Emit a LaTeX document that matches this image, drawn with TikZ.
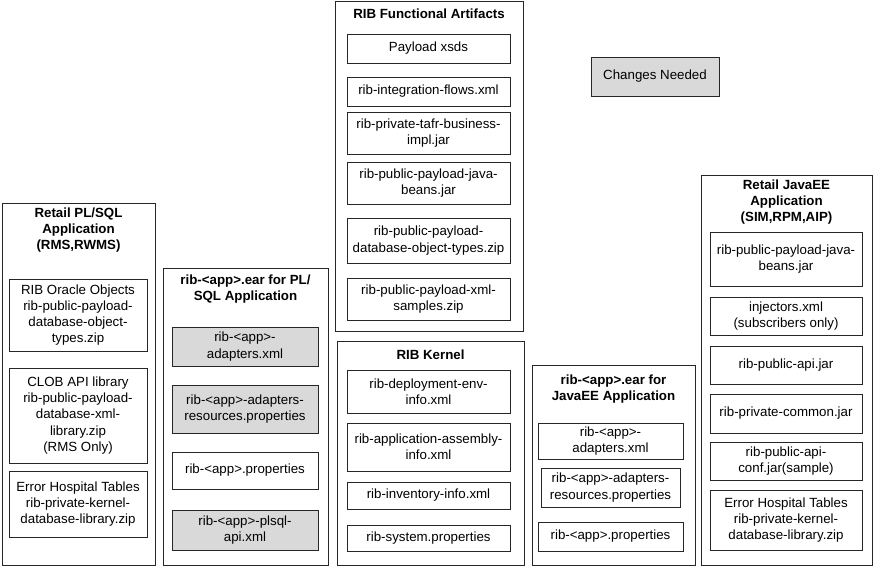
\documentclass[tikz,border=0pt]{standalone}
\usepackage{fontspec}
\setmainfont{Liberation Sans}
\usetikzlibrary{shadows}
\definecolor{ArtGray}{HTML}{D9D9D9}
\definecolor{ArtLine}{HTML}{262626}

\begin{document}
\begin{tikzpicture}[
    x=1pt,y=-1pt,
    font=\fontsize{13.3}{16.2}\selectfont,
    boxshadow/.style={drop shadow={shadow xshift=1.2pt,shadow yshift=-1.2pt,fill=black!35,opacity=1}},
    grp/.style={draw=ArtLine,line width=1pt,fill=white,inner sep=0pt,boxshadow},
    grptitle/.style={font=\fontsize{13.3}{16.2}\selectfont\bfseries,align=center,inner sep=0pt},
    item/.style={draw=ArtLine,line width=0.9pt,fill=white,align=center,inner sep=1pt,boxshadow},
    chg/.style={item,fill=ArtGray}
  ]
  \path[use as bounding box] (0,0) rectangle (875,568);

  % Retail PL/SQL application
  \node[grp,minimum width=153pt,minimum height=362pt] (plsql) at (78.5,384) {};
  \node[grptitle] (plsqlt) at (78.5,230) {Retail PL/SQL\\Application\\(RMS,RWMS)};
  \node[item,minimum width=138pt,minimum height=72pt] (oraobj) at (78,315) {RIB Oracle Objects\\rib-public-payload-\\database-object-\\types.zip};
  \node[item,minimum width=138pt,minimum height=95pt] (clob) at (78,415.5) {CLOB API library\\rib-public-payload-\\database-xml-\\library.zip\\(RMS Only)};
  \node[item,minimum width=138pt,minimum height=66pt] (plerr) at (78,504) {Error Hospital Tables\\rib-private-kernel-\\database-library.zip};

  % ear for PL/SQL
  \node[grp,minimum width=165pt,minimum height=297pt] (plear) at (245.5,416.5) {};
  \node[grptitle] (pleart) at (245.5,289) {rib-<app>.ear for PL/\\SQL Application};
  \node[chg,minimum width=146pt,minimum height=39pt] (pladp) at (245,346.5) {rib-<app>-\\adapters.xml};
  \node[chg,minimum width=146pt,minimum height=48pt] (plres) at (245,409) {rib-<app>-adapters-\\resources.properties};
  \node[item,minimum width=146pt,minimum height=37pt] (plprop) at (245,470.5) {rib-<app>.properties};
  \node[chg,minimum width=146pt,minimum height=40pt] (plapi) at (245,530) {rib-<app>-plsql-\\api.xml};

  % functional artifacts
  \node[grp,minimum width=188pt,minimum height=330pt] (func) at (429,166) {};
  \node[grptitle] (funct) at (429,14) {RIB Functional Artifacts};
  \node[item,minimum width=163pt,minimum height=29pt] (xsds) at (428.5,48.5) {Payload xsds};
  \node[item,minimum width=163pt,minimum height=29pt] (flows) at (428.5,91.5) {rib-integration-flows.xml};
  \node[item,minimum width=163pt,minimum height=42pt] (tafr) at (428.5,133) {rib-private-tafr-business-\\impl.jar};
  \node[item,minimum width=163pt,minimum height=42pt] (beans) at (428.5,183) {rib-public-payload-java-\\beans.jar};
  \node[item,minimum width=163pt,minimum height=45pt] (objtypes) at (428.5,240.5) {rib-public-payload-\\database-object-types.zip};
  \node[item,minimum width=163pt,minimum height=42pt] (samples) at (428.5,299) {rib-public-payload-xml-\\samples.zip};

  % kernel
  \node[grp,minimum width=187pt,minimum height=224pt] (kern) at (430.5,453) {};
  \node[grptitle] (kernt) at (430.5,355) {RIB Kernel};
  \node[item,minimum width=163pt,minimum height=43pt] (depenv) at (428.5,391.5) {rib-deployment-env-\\info.xml};
  \node[item,minimum width=163pt,minimum height=48pt] (assembly) at (428.5,447) {rib-application-assembly-\\info.xml};
  \node[item,minimum width=163pt,minimum height=27pt] (inventory) at (428.5,495.5) {rib-inventory-info.xml};
  \node[item,minimum width=163pt,minimum height=26pt] (sysprop) at (428.5,538) {rib-system.properties};

  % ear for JavaEE
  \node[grp,minimum width=163pt,minimum height=200pt] (jeear) at (613.5,465) {};
  \node[grptitle] (jeeart) at (613.5,389) {rib-<app>.ear for\\JavaEE Application};
  \node[item,minimum width=145pt,minimum height=36pt] (jeadp) at (610.5,441) {rib-<app>-\\adapters.xml};
  \node[item,minimum width=139pt,minimum height=39pt] (jeres) at (610.5,487.5) {rib-<app>-adapters-\\resources.properties};
  \node[item,minimum width=145pt,minimum height=29pt] (jeprop) at (610.5,536.5) {rib-<app>.properties};

  % Retail JavaEE application
  \node[grp,minimum width=171pt,minimum height=390pt] (javaee) at (786.5,370) {};
  \node[grptitle] (javaeet) at (786.5,202) {Retail JavaEE\\Application\\(SIM,RPM,AIP)};
  \node[item,minimum width=152pt,minimum height=54pt] (jbeans) at (786,259) {rib-public-payload-java-\\beans.jar};
  \node[item,minimum width=152pt,minimum height=38pt] (inject) at (786,316) {injectors.xml\\(subscribers only)};
  \node[item,minimum width=152pt,minimum height=38pt] (pubapi) at (786,365) {rib-public-api.jar};
  \node[item,minimum width=152pt,minimum height=39pt] (privcom) at (786,413.5) {rib-private-common.jar};
  \node[item,minimum width=152pt,minimum height=38pt] (apiconf) at (786,461) {rib-public-api-\\conf.jar(sample)};
  \node[item,minimum width=152pt,minimum height=60pt] (jeerr) at (786,520) {Error Hospital Tables\\rib-private-kernel-\\database-library.zip};

  % legend
  \node[chg,minimum width=128pt,minimum height=39pt] (legend) at (655,76.5) {Changes Needed};

\end{tikzpicture}
\end{document}
